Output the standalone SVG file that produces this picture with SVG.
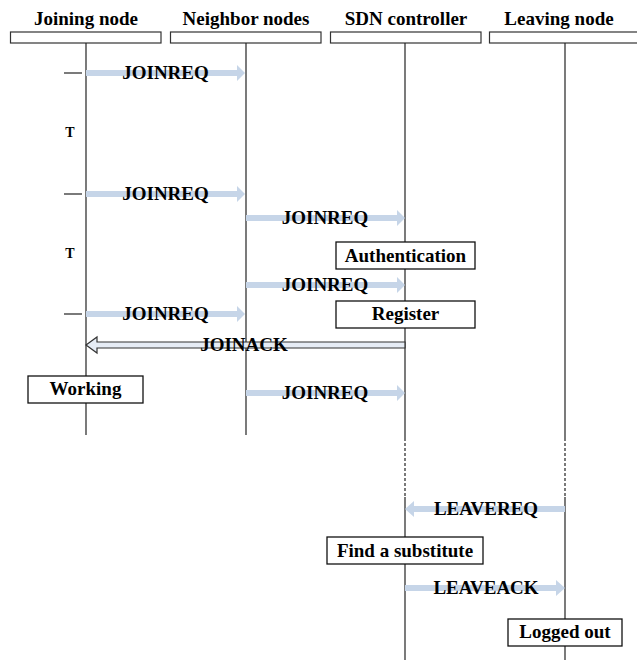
<svg xmlns="http://www.w3.org/2000/svg" width="637" height="660" viewBox="0 0 637 660">
<style>
text{font-family:"Liberation Serif","Times New Roman",serif;font-weight:bold;font-size:19px;fill:#000;text-anchor:middle}
.hdr{fill:#fff;stroke:#333;stroke-width:1.2}
.life{stroke:#222;stroke-width:1.2;fill:none}
.dash{stroke:#222;stroke-width:1.2;stroke-dasharray:3 2;fill:none}
.msg{fill:#c6d5e8;stroke:none}
.box{fill:#fff;stroke:#111;stroke-width:1.3}
.tick{stroke:#222;stroke-width:1.2}
.t{font-size:14px}
</style>
<g id="header-joining"><rect class="hdr" x="10.5" y="32" width="150.5" height="11"/><text x="86" y="25">Joining node</text></g>
<g id="header-neighbor"><rect class="hdr" x="170.5" y="32" width="150.5" height="11"/><text x="246" y="25">Neighbor nodes</text></g>
<g id="header-sdn"><rect class="hdr" x="330.5" y="32" width="150.5" height="11"/><text x="406" y="25">SDN controller</text></g>
<g id="header-leaving"><rect class="hdr" x="489.5" y="32" width="152" height="11"/><text x="559" y="25">Leaving node</text></g>
<g id="lifelines">
<line class="life" x1="86" y1="43" x2="86" y2="435"/>
<line class="life" x1="246" y1="43" x2="246" y2="435"/>
<line class="life" x1="405" y1="43" x2="405" y2="438"/>
<line class="dash" x1="405" y1="438" x2="405" y2="497"/>
<line class="life" x1="405" y1="497" x2="405" y2="660"/>
<line class="life" x1="565" y1="43" x2="565" y2="438"/>
<line class="dash" x1="565" y1="438" x2="565" y2="497"/>
<line class="life" x1="565" y1="497" x2="565" y2="660"/>
</g>
<g id="connectors">
<path class="msg" d="M86,70 H237 V65 L245,73 L237,81 V76 H86 Z"/>
<path class="msg" d="M86,191 H237 V186 L245,194 L237,202 V197 H86 Z"/>
<path class="msg" d="M86,311 H237 V306 L245,314 L237,322 V317 H86 Z"/>
<path class="msg" d="M246,215 H397 V210 L405,218 L397,226 V221 H246 Z"/>
<path class="msg" d="M246,282 H397 V277 L405,285 L397,293 V288 H246 Z"/>
<path class="msg" d="M246,390 H397 V385 L405,393 L397,401 V396 H246 Z"/>
<path class="msg" d="M565,506 H414 V501 L405,509 L414,517 V512 H565 Z"/>
<path class="msg" d="M405,585 H556 V580 L565,588 L556,596 V591 H405 Z"/>
<path d="M86,345 L97,337 V342 H405 V348 H97 V353 Z" fill="#e6ecf5" stroke="#333" stroke-width="1.2"/>
<line class="tick" x1="64" y1="73" x2="82" y2="73"/>
<line class="tick" x1="64" y1="194" x2="82" y2="194"/>
<line class="tick" x1="64" y1="314" x2="82" y2="314"/>
<text x="165.5" y="79">JOINREQ</text>
<text x="165.5" y="200">JOINREQ</text>
<text x="165.5" y="320">JOINREQ</text>
<text x="325" y="224">JOINREQ</text>
<text x="325" y="291">JOINREQ</text>
<text x="325" y="399">JOINREQ</text>
<text x="244" y="351">JOINACK</text>
<text x="486" y="515">LEAVEREQ</text>
<text x="486" y="594">LEAVEACK</text>
<text class="t" x="70" y="137">T</text>
<text class="t" x="70" y="258">T</text>
</g>
<g id="authentication"><rect class="box" x="336" y="242" width="139" height="27"/><text x="405.5" y="262">Authentication</text></g>
<g id="register"><rect class="box" x="336" y="301" width="139" height="27"/><text x="405.5" y="320">Register</text></g>
<g id="working"><rect class="box" x="28" y="376" width="115" height="27"/><text x="85.5" y="395">Working</text></g>
<g id="find-substitute"><rect class="box" x="327" y="537" width="156" height="27"/><text x="405" y="557">Find a substitute</text></g>
<g id="logged-out"><rect class="box" x="508" y="619" width="114" height="27"/><text x="565" y="638">Logged out</text></g>
</svg>
